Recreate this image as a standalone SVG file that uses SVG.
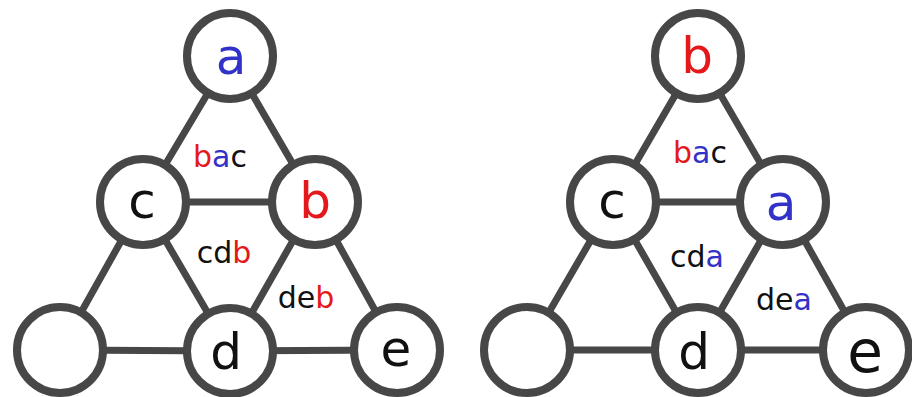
<svg xmlns="http://www.w3.org/2000/svg" width="912" height="397" viewBox="0 0 912 397">
<style>
.edge{stroke:#474747;stroke-width:7;stroke-linecap:round}
.node circle{fill:#fff;stroke:#474747;stroke-width:8}
.nl{font-family:"DejaVu Sans","Liberation Sans",sans-serif;font-size:50px;text-anchor:middle;font-weight:normal}
.fl{font-family:"DejaVu Sans","Liberation Sans",sans-serif;font-size:30px;text-anchor:middle}
.k{fill:#111}
.r{fill:#e3191b}
.b{fill:#3232c8}
</style>
<rect width="912" height="397" fill="#fff"/>
<g id="connectors">
<line class="edge" x1="230" y1="56" x2="143" y2="202"/>
<line class="edge" x1="230" y1="56" x2="315" y2="202"/>
<line class="edge" x1="143" y1="202" x2="315" y2="202"/>
<line class="edge" x1="143" y1="202" x2="60" y2="350"/>
<line class="edge" x1="143" y1="202" x2="230" y2="351"/>
<line class="edge" x1="315" y1="202" x2="230" y2="351"/>
<line class="edge" x1="315" y1="202" x2="397" y2="350"/>
<line class="edge" x1="60" y1="350" x2="230" y2="351"/>
<line class="edge" x1="230" y1="351" x2="397" y2="350"/>
<line class="edge" x1="698" y1="56" x2="613" y2="202"/>
<line class="edge" x1="698" y1="56" x2="783" y2="202"/>
<line class="edge" x1="613" y1="202" x2="783" y2="202"/>
<line class="edge" x1="613" y1="202" x2="527" y2="350"/>
<line class="edge" x1="613" y1="202" x2="698" y2="350"/>
<line class="edge" x1="783" y1="202" x2="698" y2="350"/>
<line class="edge" x1="783" y1="202" x2="866" y2="350"/>
<line class="edge" x1="527" y1="350" x2="698" y2="350"/>
<line class="edge" x1="698" y1="350" x2="866" y2="350"/>
</g>
<g id="L_a" class="node"><circle cx="230" cy="56" r="43"/><text class="nl b" x="231" y="74">a</text></g>
<g id="L_c" class="node"><circle cx="143" cy="202" r="43"/><text class="nl k" x="142" y="218">c</text></g>
<g id="L_b" class="node"><circle cx="315" cy="202" r="43"/><text class="nl r" x="315" y="218">b</text></g>
<g id="L_empty" class="node"><circle cx="60" cy="350" r="43"/></g>
<g id="L_d" class="node"><circle cx="230" cy="351" r="43"/><text class="nl k" x="226" y="369">d</text></g>
<g id="L_e" class="node"><circle cx="397" cy="350" r="43"/><text class="nl k" x="396" y="366">e</text></g>
<g id="R_b" class="node"><circle cx="698" cy="56" r="43"/><text class="nl r" x="697" y="73">b</text></g>
<g id="R_c" class="node"><circle cx="613" cy="202" r="43"/><text class="nl k" x="612" y="218">c</text></g>
<g id="R_a" class="node"><circle cx="783" cy="202" r="43"/><text class="nl b" x="781" y="220">a</text></g>
<g id="R_empty" class="node"><circle cx="527" cy="350" r="43"/></g>
<g id="R_d" class="node"><circle cx="698" cy="350" r="43"/><text class="nl k" x="694" y="369">d</text></g>
<g id="R_e" class="node"><circle cx="866" cy="350" r="43"/><text class="nl k" x="865" y="372" style="font-size:58px">e</text></g>
<g id="faces">
<text class="fl" x="220" y="167"><tspan class="r">b</tspan><tspan class="b">a</tspan><tspan class="k">c</tspan></text>
<text class="fl" x="224" y="263"><tspan class="k">cd</tspan><tspan class="r">b</tspan></text>
<text class="fl" x="306" y="308"><tspan class="k">de</tspan><tspan class="r">b</tspan></text>
<text class="fl" x="700" y="163"><tspan class="r">b</tspan><tspan class="b">a</tspan><tspan class="k">c</tspan></text>
<text class="fl" x="697" y="267"><tspan class="k">cd</tspan><tspan class="b">a</tspan></text>
<text class="fl" x="784" y="310"><tspan class="k">de</tspan><tspan class="b">a</tspan></text>
</g>
</svg>
